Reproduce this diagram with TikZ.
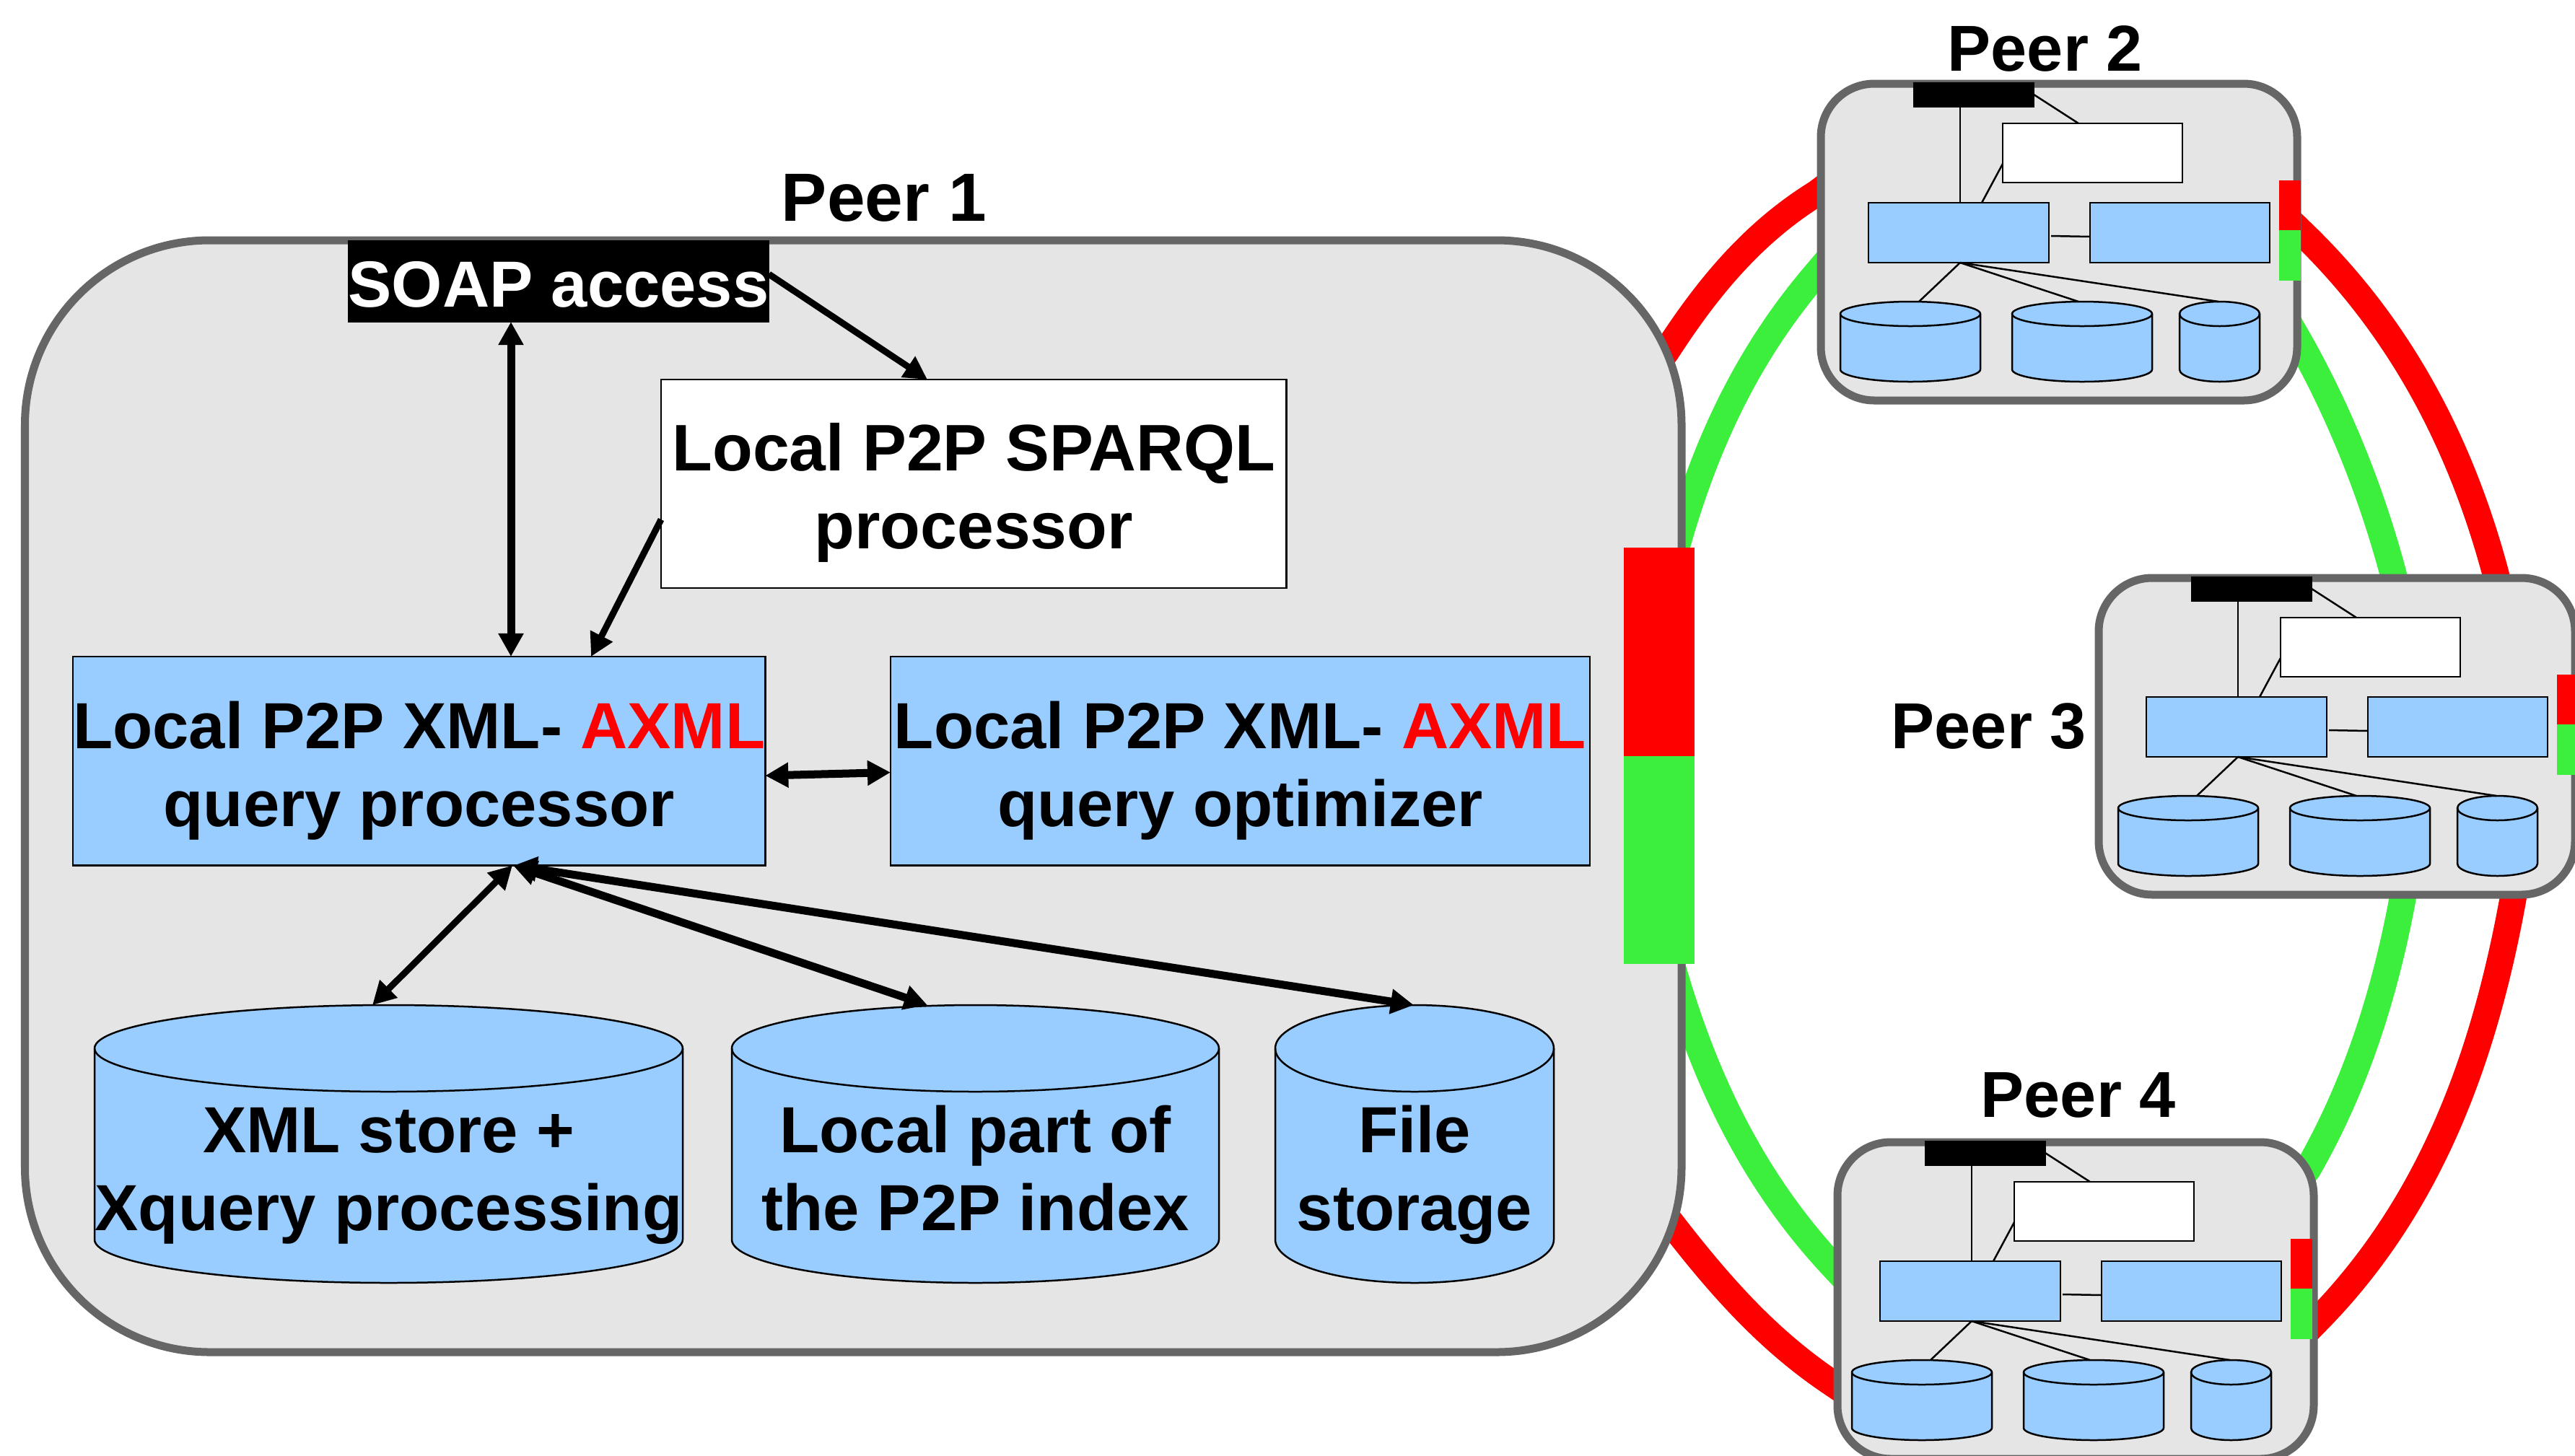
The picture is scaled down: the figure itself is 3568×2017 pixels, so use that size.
\documentclass[tikz,border=0pt]{standalone}
\usepackage{fontspec}
\setmainfont{Liberation Sans}
\usetikzlibrary{arrows.meta,calc}
\definecolor{blueish}{HTML}{99CCFF}
\definecolor{bandgreen}{HTML}{3DEF3D}
\definecolor{peerfill}{HTML}{E5E5E5}
\definecolor{peerline}{HTML}{666666}
\newcommand{\twoln}[3]{\rule{0pt}{#3cm}#1\\#2\rule[-0.3cm]{0pt}{0.3cm}}
\newcommand{\boxnode}[7]{%
  \pgfmathsetmacro\bxc{(#3+#5)/2}\pgfmathsetmacro\byc{(#4+#6)/2}%
  \pgfmathsetmacro\bxw{#5-#3}\pgfmathsetmacro\byh{#6-#4}%
  \node[#2,minimum width=\bxw*0.01cm,minimum height=\byh*0.01cm] (#1) at (\bxc,\byc) {#7};}
\newcommand{\cyl}[7]{% name, x1, x2, ytop, ybot, ry, text
  \pgfmathsetmacro\crx{(#3-#2)/2}\pgfmathsetmacro\cyt{#4+#6}\pgfmathsetmacro\cyb{#5-#6}%
  \draw[#7cylpath] (#2,\cyt) -- (#2,\cyb)
     arc[start angle=180,end angle=360,x radius=\crx*0.01cm,y radius=#6*0.01cm]
     -- (#3,\cyt)
     arc[start angle=0,end angle=180,x radius=\crx*0.01cm,y radius=#6*0.01cm] -- cycle;
  \draw[#7cyledge] (#2,\cyt)
     arc[start angle=180,end angle=360,x radius=\crx*0.01cm,y radius=#6*0.01cm];
  \boxnode{#1}{plainbox}{#2}{#4}{#3}{#5}{}}
\newcommand{\cyltext}[6]{%
  \boxnode{#1}{plainbox,labeltext}{#2}{#3}{#4}{#5}{#6}}
\newcommand{\minipeer}[5]{% prefix, dx, dy, outer extra dx, number of px
  \begin{scope}[shift={(#2,#3)}]
  \begin{scope}[shift={(#4,0)}]
    \boxnode{#1o}{peerbox,rounded corners=0.74cm}{2523}{116}{3183}{555}{}
  \end{scope}
  \boxnode{#1s}{blackbox}{2651}{114}{2818}{148}{}
  \boxnode{#1w}{whitebox}{2775}{171}{3024}{253}{}
  \boxnode{#1a}{bluebox}{2589}{281}{2839}{364}{}
  \boxnode{#1b}{bluebox}{2896}{281}{3145}{364}{}
  \cyl{#1c}{2550}{2744}{418}{529}{17}{}
  \cyl{#1d}{2788}{2982}{418}{529}{17}{}
  \cyl{#1e}{3020}{3131}{418}{529}{17}{}
  \draw[thinlink] (#1s.south -| 2716,0) -- (#1a.north -| 2716,0);
  \draw[thinlink] (#1s.east |- 0,131) -- (#1w.north -| 2880,0);
  \draw[thinlink] (#1w.west |- 0,227) -- (#1a.north -| 2746,0);
  \draw[thinlink] (2842,327) -- (#1b.west |- 0,328);
  \draw[thinlink] (#1a.south -| 2716,0) -- (#1c.north -| 2659,0);
  \draw[thinlink] (#1a.south -| 2716,0) -- (#1d.north -| 2880,0);
  \draw[thinlink] (#1a.south -| 2716,0) -- (#1e.north -| 3074,0);
  \boxnode{#1r}{redpatch}{3158}{250}{3188}{319}{}
  \boxnode{#1g}{greenpatch}{3158}{319}{3188}{389}{}
  \end{scope}}
\tikzset{
  x=0.01cm,y=-0.01cm,
  basebox/.style={rectangle,inner sep=0pt,outer sep=0pt,align=center},
  plainbox/.style={basebox},
  labeltext/.style={font=\fontsize{25.7}{30.73}\selectfont\bfseries},
  peerbox/.style={basebox,draw=peerline,fill=peerfill,line width=0.11cm},
  blackbox/.style={basebox,fill=black,draw=black,line width=0.01cm},
  whitebox/.style={basebox,fill=white,draw=black,line width=0.025cm},
  bluebox/.style={basebox,fill=blueish,draw=black,line width=0.025cm},
  redpatch/.style={basebox,fill=red},
  greenpatch/.style={basebox,fill=bandgreen},
  cylpath/.style={fill=blueish,draw=black,line width=0.025cm},
  cyledge/.style={draw=black,line width=0.025cm},
  thinlink/.style={draw=black,line width=0.025cm},
  redband/.style={draw=red,line width=0.37cm},
  greenband/.style={draw=bandgreen,line width=0.37cm},
  peerlabel/.style={anchor=base,inner sep=0pt,font=\fontsize{25.6}{30.73}\selectfont\bfseries},
  tip/.tip={Triangle[length=0.32cm,width=0.33cm]},
  onearrow/.style={line width=0.09cm,-{tip}},
  bothbold/.style={line width=0.11cm,{tip}-{tip}},
  boththin/.style={line width=0.09cm,{tip}-{tip}},
}
\begin{document}
\begin{tikzpicture}
\useasboundingbox (0,0) rectangle (3568,2017);
\clip (0,0) rectangle (3568,2017);
% bands
\draw[redband] (2274,536) -- (2309,487) .. controls (2362,405) and (2425,325) .. (2517,268) -- (2565,232);
\draw[greenband] (2312,797) -- (2323,758) .. controls (2363,616) and (2421,491) .. (2517,379) -- (2556,333);
\draw[greenband] (2305,1298) -- (2316,1336) .. controls (2361,1494) and (2428,1635) .. (2540,1755) -- (2581,1799);
\draw[redband] (2281,1650) -- (2318,1698) .. controls (2384,1783) and (2450,1858) .. (2540,1918) -- (2590,1952);
\draw[redband] (3151,285) -- (3187,320) .. controls (3324,451) and (3409,612) .. (3458,795) -- (3468,835);
\draw[greenband] (3167,440) -- (3187,475) .. controls (3243,575) and (3286,683) .. (3316,795) -- (3326,835);
\draw[redband] (3489,1206) -- (3482,1246) .. controls (3442,1466) and (3368,1670) .. (3211,1830) -- (3169,1873);
\draw[greenband] (3335,1206) -- (3329,1246) .. controls (3303,1385) and (3262,1508) .. (3198,1620) -- (3168,1660);
% peer 1
\boxnode{pa}{peerbox,rounded corners=2.56cm}{34.5}{333}{2330}{1874}{}
\boxnode{soap}{blackbox,labeltext,text=white}{484}{333}{1064}{446}{\rule{0pt}{0.81cm}SOAP access\rule[-0.1cm]{0pt}{0.1cm}}
\boxnode{white}{whitebox,labeltext,font=\fontsize{25.95}{30.73}\selectfont\bfseries}{916}{526}{1782.5}{815}{\twoln{Local P2P SPARQL}{processor}{1.015}}
\boxnode{proc}{bluebox,labeltext}{102.5}{910}{1059}{1199.5}{\twoln{Local P2P XML- \textcolor{red}{AXML}}{query processor}{1.025}}
\boxnode{opt}{bluebox,labeltext}{1234}{910}{2203}{1199.5}{\twoln{Local P2P XML- \textcolor{red}{AXML}}{query optimizer}{1.025}}
\cyl{ca}{131}{946}{1393}{1778}{60}{}
\cyl{cb}{1014}{1689}{1393}{1778}{60}{}
\cyl{cc}{1767}{2153}{1393}{1778}{60}{}
\cyltext{cat}{131}{1393}{946}{1778}{\twoln{XML store +}{Xquery processing}{1.62}}
\cyltext{cbt}{1014}{1393}{1689}{1778}{\twoln{Local part of}{the P2P index}{1.62}}
\cyltext{cct}{1767}{1393}{2153}{1778}{\twoln{File}{storage}{1.62}}
\draw[bothbold] (soap.south -| 708,0) -- (proc.north -| 708,0);
\draw[onearrow] (soap.east |- 0,380) -- (white.north -| 1285,0);
\draw[onearrow] (white.west |- 0,720) -- (proc.north -| 819,0);
\draw[bothbold] (proc.east |- 0,1075) -- (opt.west |- 0,1070.5);
\draw[boththin] (proc.south -| 710,0) -- (ca.north -| 516,0);
\draw[bothbold] (proc.south -| 711,0) -- (cb.north -| 1285,0);
\draw[bothbold] (proc.south -| 712,0) -- (cc.north -| 1959,0);
\boxnode{ra}{redpatch}{2250}{759}{2348}{1048}{}
\boxnode{ga}{greenpatch}{2250}{1048}{2348}{1335.5}{}
% small peers
\minipeer{pb}{0}{0}{0}{2}
\minipeer{pc}{385}{685}{0}{3}
\minipeer{pd}{16}{1467}{7}{4}
% labels
\node[peerlabel,font=\fontsize{26.9}{30}\selectfont\bfseries] (la) at (1225,306) {Peer 1};
\node[peerlabel] (lb) at (2834,98) {Peer 2};
\node[peerlabel] (lc) at (2756,1037.5) {Peer 3};
\node[peerlabel] (ld) at (2880,1548) {Peer 4};
\end{tikzpicture}
\end{document}
